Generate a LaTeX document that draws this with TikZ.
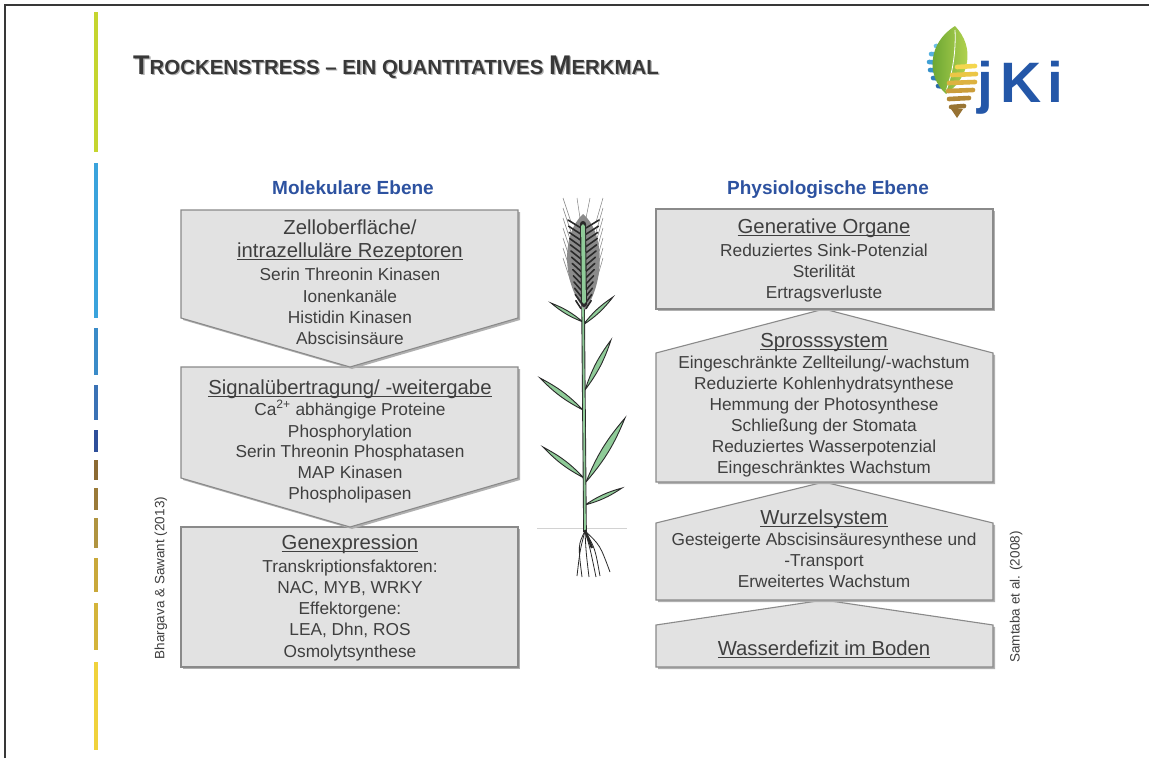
\documentclass[tikz,border=0pt]{standalone}
\usepackage{fontspec}
\setmainfont{Liberation Sans}
\usetikzlibrary{calc}
\definecolor{boxgray}{HTML}{E2E2E2}
\definecolor{boxedge}{HTML}{8A8A8A}
\definecolor{boxshadow}{HTML}{B0B0B0}
\definecolor{txtgray}{HTML}{3F3F3F}
\definecolor{titlegray}{HTML}{383838}
\definecolor{headblue}{HTML}{2D52A0}
\definecolor{jkiblue}{HTML}{2457A8}
\definecolor{leafgreen}{HTML}{8FCB98}
\definecolor{plantdark}{HTML}{2A2A2A}
\definecolor{rootbrown}{HTML}{977233}
\definecolor{logoleafdark}{HTML}{5E9E2E}
\definecolor{logoleaflight}{HTML}{C2DC55}
\newsavebox\ulbox
\newcommand\ulhead[1]{\sbox\ulbox{#1}\rlap{\rule[-2.6pt]{\wd\ulbox}{1.1pt}}\usebox\ulbox}
\newcommand\slidetitle{\bfseries{\fontsize{27}{27}\selectfont T}{\fontsize{20.4}{20}\selectfont ROCKENSTRESS – EIN QUANTITATIVES }{\fontsize{27}{27}\selectfont M}{\fontsize{20.4}{20}\selectfont ERKMAL}}
\begin{document}
\begin{tikzpicture}[x=1pt,y=-1pt,
  blockshape/.style={fill=boxgray,draw=boxedge,line width=1.1pt,line join=miter},
  blockshadow/.style={fill=boxshadow,draw=none},
  body/.style={font=\fontsize{17.3}{20}\selectfont,text=txtgray,inner sep=0pt,anchor=base},
  head/.style={body,font=\fontsize{20.3}{24}\selectfont},
  levelhead/.style={font=\bfseries\fontsize{19}{22}\selectfont,text=headblue,inner sep=0pt,anchor=base},
  cite/.style={font=\fontsize{13.5}{15}\selectfont,text=txtgray,inner sep=0pt,rotate=90},
  leaf/.style={fill=leafgreen,draw=plantdark,line width=0.9pt},
  spike/.style={draw=plantdark,line width=1.6pt,line cap=round},
  awn/.style={draw=plantdark!60,line width=0.5pt},
  root/.style={draw=plantdark,line width=0.8pt},
  stripe/.style={line width=4.6pt,line cap=round},
  barseg/.style={line width=3.6pt}]
\useasboundingbox (0,0) rectangle (1149,758);
\fill[white] (0,0) rectangle (1149,758);

% slide frame
\draw[titlegray,line width=1.5pt] (5,758) -- (5,5) -- (1149,5);

% coloured bar on the left
\foreach \ya/\yb/\col in {12/152/C5D52F,163/318/3AA3DC,328/375/3A8BC8,385/420/3A72B5,430/452/2E4F9A,460/480/8C6A32,488/510/9A7A38,518/548/B09440,558/592/C9A83A,603/650/D4B43A,662/750/F0D23C}{
  \definecolor{segcol}{HTML}{\col}
  \draw[barseg,segcol] (96,\ya) -- (96,\yb);
}

% title
\node[inner sep=0pt,anchor=base west,text=black!30] (titleshadow) at (134.3,75.3) {\slidetitle};
\node[inner sep=0pt,anchor=base west,text=titlegray] (title) at (133,74) {\slidetitle};

% logo: leaf emblem (blue water bands, green leaf, golden soil bands)
\foreach \yy/\xa/\col in {46/936/6CC0E8,54/931/55B1E0,62/929/41A0D5,70/930/3690C8,78/933/2F7DB8,86/938/2A6AA8}{
  \definecolor{stripecol}{HTML}{\col}
  \draw[stripe,stripecol] (\xa,\yy) -- (950,\yy+1.5);
}
\shade[left color=logoleafdark,right color=logoleaflight] (946,94) .. controls (925,75) and (929,42) .. (955,26) .. controls (976,48) and (969,78) .. (946,94) -- cycle;
\draw[white,line width=0.8pt] (946,91) .. controls (953,72) and (956,50) .. (955,30);
\foreach \yy/\xa/\xb/\col in {66/957/975/F4D64E,74/952/976/EBC646,82/949/975/DDB240,90/948/973/CB9D3A,98/949/969/B38836,106/951/964/997534}{
  \definecolor{stripecol}{HTML}{\col}
  \draw[stripe,stripecol] (\xa,\yy+1) -- (\xb,\yy);
}
\fill[rootbrown] (951,109) -- (963,109) -- (957,118) -- cycle;
\node[inner sep=0pt,anchor=base west,text=jkiblue] (jki) at (977,102)
  {\bfseries\fontsize{57}{57}\selectfont j\kern7pt K\kern6pt i};

% level headings
\node[levelhead] (molhead) at (353,194) {Molekulare Ebene};
\node[levelhead] (phyhead) at (828,194) {Physiologische Ebene};

% molecular level: three stacked blocks
\fill[blockshadow] (183,529) rectangle (520,669);
\draw[blockshape] (181,527) rectangle (518,667);
\fill[blockshadow] (183,369) -- (520,369) -- (520,480) -- (352,529) -- (183,480) -- cycle;
\draw[blockshape] (181,367) -- (518,367) -- (518,478) -- (350,527) -- (181,478) -- cycle;
\fill[blockshadow] (183,212) -- (520,212) -- (520,320) -- (352,369) -- (183,320) -- cycle;
\draw[blockshape] (181,210) -- (518,210) -- (518,318) -- (350,367) -- (181,318) -- cycle;

\node[head] (m1a) at (350,234) {Zelloberfläche/};
\node[head] (m1b) at (350,257) {\ulhead{intrazelluläre Rezeptoren}};
\node[body] (m1c) at (350,280) {Serin Threonin Kinasen};
\node[body] (m1d) at (350,302) {Ionenkanäle};
\node[body] (m1e) at (350,323) {Histidin Kinasen};
\node[body] (m1f) at (350,344) {Abscisinsäure};

\node[head] (m2a) at (350,394) {\ulhead{Signalübertragung/ -weitergabe}};
\node[body] (m2b) at (350,415) {Ca\textsuperscript{2+} abhängige Proteine};
\node[body] (m2c) at (350,437) {Phosphorylation};
\node[body] (m2d) at (350,457) {Serin Threonin Phosphatasen};
\node[body] (m2e) at (350,478) {MAP Kinasen};
\node[body] (m2f) at (350,499) {Phospholipasen};

\node[head] (m3a) at (350,549) {\ulhead{Genexpression}};
\node[body] (m3b) at (350,572) {Transkriptionsfaktoren:};
\node[body] (m3c) at (350,593) {NAC, MYB, WRKY};
\node[body] (m3d) at (350,614) {Effektorgene:};
\node[body] (m3e) at (350,635) {LEA, Dhn, ROS};
\node[body] (m3f) at (350,657) {Osmolytsynthese};

% physiological level: four stacked blocks
\fill[blockshadow] (658,627) -- (826,602) -- (995,627) -- (995,669) -- (658,669) -- cycle;
\draw[blockshape] (656,625) -- (824,600) -- (993,625) -- (993,667) -- (656,667) -- cycle;
\fill[blockshadow] (658,525) -- (826,484) -- (995,525) -- (995,602) -- (658,602) -- cycle;
\draw[blockshape] (656,523) -- (824,482) -- (993,523) -- (993,600) -- (656,600) -- cycle;
\fill[blockshadow] (658,355) -- (826,311) -- (995,355) -- (995,484) -- (658,484) -- cycle;
\draw[blockshape] (656,353) -- (824,309) -- (993,353) -- (993,482) -- (656,482) -- cycle;
\fill[blockshadow] (658,211) rectangle (995,311);
\draw[blockshape] (656,209) rectangle (993,309);

\node[head] (p1a) at (824,233) {\ulhead{Generative Organe}};
\node[body] (p1b) at (824,256) {Reduziertes Sink-Potenzial};
\node[body] (p1c) at (824,277) {Sterilität};
\node[body] (p1d) at (824,298) {Ertragsverluste};

\node[head] (p2a) at (824,347) {\ulhead{Sprosssystem}};
\node[body] (p2b) at (824,368) {Eingeschränkte Zellteilung/-wachstum};
\node[body] (p2c) at (824,389) {Reduzierte Kohlenhydratsynthese};
\node[body] (p2d) at (824,410) {Hemmung der Photosynthese};
\node[body] (p2e) at (824,431) {Schließung der Stomata};
\node[body] (p2f) at (824,452) {Reduziertes Wasserpotenzial};
\node[body] (p2g) at (824,473) {Eingeschränktes Wachstum};

\node[head] (p3a) at (824,524) {\ulhead{Wurzelsystem}};
\node[body] (p3b) at (824,545) {Gesteigerte Abscisinsäuresynthese und};
\node[body] (p3c) at (824,566) {-Transport};
\node[body] (p3d) at (824,587) {Erweitertes Wachstum};

\node[head] (p4a) at (824,655) {\ulhead{Wasserdefizit im Boden}};

% references
\node[cite] (citeleft) at (161,578) {Bhargava \& Sawant (2013)};
\node[cite] (citeright) at (1016,597) {Samtaba et al. (2008)};

% wheat plant
\draw[gray!35,line width=1pt] (537,528) -- (627,528);
\foreach \bx/\by/\tx/\ty in {583/322/551/303, 583/325/613/297, 583/410/540/378, 585/390/611/340, 584/478/543/447, 586/482/625/418, 585/505/622/488}{
  \draw[leaf] (\bx,\by) to[bend left=9] (\tx,\ty) to[bend left=9] (\bx,\by);
}
\draw[plantdark,line width=3.6pt] (583,300) -- (585,532);
\draw[leafgreen,line width=1.8pt] (583,300) -- (585,532);
% ear: awns, body, spikelets, rachis
\foreach \k in {0,...,6}{
  \pgfmathsetmacro\yy{222+\k*10}
  \draw[awn] (571,\yy) -- (563,\yy-24);
  \draw[awn] (596,\yy) -- (603,\yy-24);
}
\draw[awn] (580,218) -- (577,198);
\draw[awn] (586,218) -- (590,198);
\fill[plantdark!55] (583,214) .. controls (605,232) and (605,282) .. (585,310) .. controls (562,284) and (561,234) .. (583,214) -- cycle;
\foreach \k in {0,...,13}{
  \pgfmathsetmacro\yy{222+\k*6.2}
  \draw[spike] (581,\yy+6) -- (568+\k*0.6,\yy-2);
  \draw[spike] (586,\yy+6) -- (599-\k*0.6,\yy-2);
}
\draw[plantdark,line width=6pt,line cap=round] (583,224) -- (584,304);
\draw[leafgreen,line width=3.8pt,line cap=round] (583,226) -- (584,302);
% roots
\draw[root] (585,531) .. controls (580,550) .. (577,576);
\draw[root] (585,531) .. controls (586,552) .. (589,577);
\draw[root] (585,531) .. controls (595,548) .. (600,576);
\draw[root] (585,531) .. controls (600,545) .. (610,572);
\draw[root] (585,531) .. controls (590,548) .. (596,577);
\draw[root] (585,531) .. controls (578,545) .. (582,577);
\draw[plantdark,line width=2.4pt] (585,530) -- (592,548);
\end{tikzpicture}
\end{document}
